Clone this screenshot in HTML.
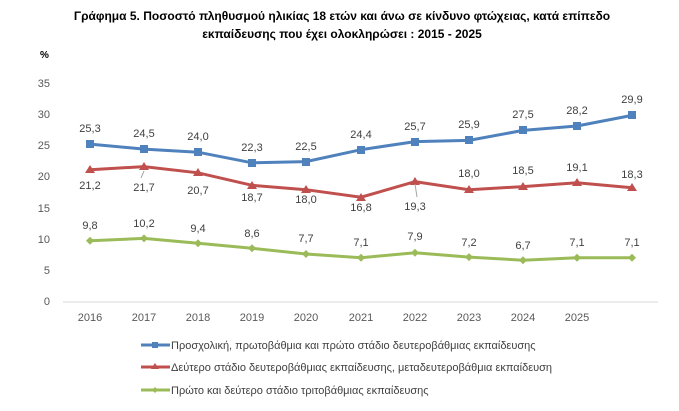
<!DOCTYPE html>
<html><head><meta charset="utf-8"><style>
body{margin:0;background:#fff;width:679px;height:406px;overflow:hidden}
svg{font-family:"Liberation Sans",sans-serif}
</style></head><body>
<svg width="679" height="406" viewBox="0 0 679 406">
<g font-weight="bold" font-size="12" text-anchor="middle" fill="#000">
<text x="342" y="20">Γράφημα 5. Ποσοστό πληθυσμού ηλικίας 18 ετών και άνω σε κίνδυνο φτώχειας, κατά επίπεδο</text>
<text x="342" y="38">εκπαίδευσης που έχει ολοκληρώσει : 2015 - 2025</text>
</g>
<text x="40" y="58" font-size="10" font-weight="bold" fill="#000">%</text>
<g font-size="11" fill="#595959" text-anchor="end">
<text x="50" y="87">35</text><text x="50" y="118">30</text><text x="50" y="149">25</text><text x="50" y="180">20</text><text x="50" y="212">15</text><text x="50" y="243">10</text><text x="50" y="274">5</text><text x="50" y="305">0</text>
</g>
<line x1="63" y1="302" x2="658" y2="302" stroke="#d9d9d9" stroke-width="1"/>
<g font-size="11" fill="#595959" text-anchor="middle">
<text x="90" y="321">2016</text><text x="144" y="321">2017</text><text x="198" y="321">2018</text><text x="252" y="321">2019</text><text x="306" y="321">2020</text><text x="361" y="321">2021</text><text x="415" y="321">2022</text><text x="469" y="321">2023</text><text x="523" y="321">2024</text><text x="577" y="321">2025</text>
</g>
<polyline fill="none" stroke="#4f81bd" stroke-width="3" points="90,144.1 144,149.1 198,152.2 252,162.8 306,161.6 361,149.7 415,141.6 469,140.4 523,130.4 577,126 632,115.4"/>
<g fill="#4f81bd">
<rect x="86" y="140" width="8" height="8"/><rect x="140" y="145" width="8" height="8"/><rect x="194" y="148" width="8" height="8"/><rect x="248" y="159" width="8" height="8"/><rect x="302" y="158" width="8" height="8"/><rect x="357" y="146" width="8" height="8"/><rect x="411" y="138" width="8" height="8"/><rect x="465" y="136" width="8" height="8"/><rect x="519" y="126" width="8" height="8"/><rect x="573" y="122" width="8" height="8"/><rect x="628" y="111" width="8" height="8"/>
</g>
<polyline fill="none" stroke="#c0504d" stroke-width="3" points="90,169.7 144,166.6 198,172.8 252,185.3 306,189.7 361,197.2 415,181.6 469,189.7 523,186.6 577,182.8 632,187.8"/>
<g fill="#c0504d">
<path d="M90,165 l5,8 h-10z"/><path d="M144,162 l5,8 h-10z"/><path d="M198,168 l5,8 h-10z"/><path d="M252,181 l5,8 h-10z"/><path d="M306,185 l5,8 h-10z"/><path d="M361,193 l5,8 h-10z"/><path d="M415,177 l5,8 h-10z"/><path d="M469,185 l5,8 h-10z"/><path d="M523,182 l5,8 h-10z"/><path d="M577,178 l5,8 h-10z"/><path d="M632,183 l5,8 h-10z"/>
</g>
<polyline fill="none" stroke="#9bbb59" stroke-width="3" points="90,240.8 144,238.4 198,243.3 252,248.3 306,254 361,257.7 415,252.7 469,257.1 523,260.2 577,257.7 632,257.7"/>
<g fill="#9bbb59">
<path d="M90,236.8 l4,4 -4,4 -4,-4z"/><path d="M144,234.4 l4,4 -4,4 -4,-4z"/><path d="M198,239.3 l4,4 -4,4 -4,-4z"/><path d="M252,244.3 l4,4 -4,4 -4,-4z"/><path d="M306,250 l4,4 -4,4 -4,-4z"/><path d="M361,253.7 l4,4 -4,4 -4,-4z"/><path d="M415,248.7 l4,4 -4,4 -4,-4z"/><path d="M469,253.1 l4,4 -4,4 -4,-4z"/><path d="M523,256.2 l4,4 -4,4 -4,-4z"/><path d="M577,253.7 l4,4 -4,4 -4,-4z"/><path d="M632,253.7 l4,4 -4,4 -4,-4z"/>
</g>
<g font-size="11" fill="#404040" text-anchor="middle">
<text x="90" y="132">25,3</text><text x="144" y="137">24,5</text><text x="198" y="140">24,0</text><text x="252" y="151">22,3</text><text x="306" y="150">22,5</text><text x="361" y="138">24,4</text><text x="415" y="130">25,7</text><text x="469" y="128">25,9</text><text x="523" y="118">27,5</text><text x="577" y="114">28,2</text><text x="632" y="103">29,9</text>
<text x="90" y="189">21,2</text><text x="144" y="191">21,7</text><text x="198" y="194">20,7</text><text x="252" y="201">18,7</text><text x="306" y="203">18,0</text><text x="361" y="211">16,8</text><text x="415" y="210">19,3</text><text x="469" y="177">18,0</text><text x="523" y="174">18,5</text><text x="577" y="171">19,1</text><text x="632" y="178">18,3</text>
<text x="90" y="229">9,8</text><text x="144" y="227">10,2</text><text x="198" y="232">9,4</text><text x="252" y="237">8,6</text><text x="306" y="242">7,7</text><text x="361" y="246">7,1</text><text x="415" y="240">7,9</text><text x="469" y="246">7,2</text><text x="523" y="249">6,7</text><text x="577" y="246">7,1</text><text x="632" y="246">7,1</text>
</g>
<line x1="144" y1="171" x2="141" y2="178" stroke="#a6a6a6"/>
<line x1="415" y1="184" x2="417" y2="197" stroke="#a6a6a6"/>
<line x1="141" y1="345" x2="170" y2="345" stroke="#4f81bd" stroke-width="3"/><rect x="152" y="342" width="6" height="6" fill="#4f81bd"/>
<line x1="141" y1="367" x2="170" y2="367" stroke="#c0504d" stroke-width="3"/><path d="M155,363 l4,6 h-8z" fill="#c0504d"/>
<line x1="141" y1="390" x2="170" y2="390" stroke="#9bbb59" stroke-width="3"/><path d="M155,387 l3,3 -3,3 -3,-3z" fill="#9bbb59"/>
<g font-size="11" fill="#404040">
<text x="171" y="349">Προσχολική, πρωτοβάθμια και πρώτο στάδιο δευτεροβάθμιας εκπαίδευσης</text>
<text x="171" y="371">Δεύτερο στάδιο δευτεροβάθμιας εκπαίδευσης, μεταδευτεροβάθμια εκπαίδευση</text>
<text x="171" y="394">Πρώτο και δεύτερο στάδιο τριτοβάθμιας εκπαίδευσης</text>
</g>
</svg>
</body></html>
